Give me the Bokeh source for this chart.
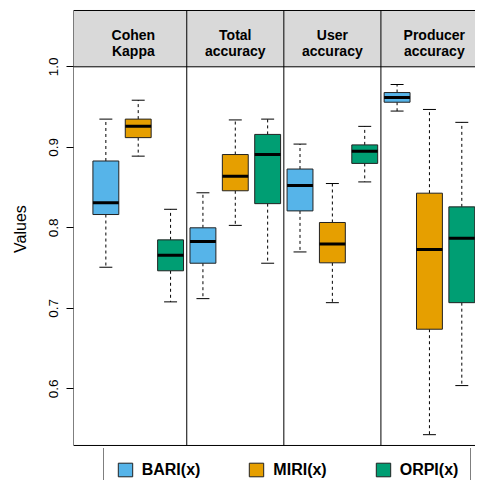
from bokeh.plotting import figure
from bokeh.layouts import column
from bokeh.models import (Range1d, FixedTicker, PrintfTickFormatter, Span, BoxAnnotation,
                          Legend, LegendItem, ColumnDataSource)
from bokeh.core.properties import value
from bokeh.embed import file_html
from bokeh.resources import INLINE

# ---------------- data ----------------
header_line1 = ["Cohen", "Total", "User", "Producer"]
header_line2 = ["Kappa", "accuracy", "accuracy", "accuracy"]
methods = ["BARI(x)", "MIRI(x)", "ORPI(x)"]
colors = ["#56B4E9", "#E69F00", "#009E73"]
y_ticks = [0.6, 0.7, 0.8, 0.9, 1.0]

# order: Cohen Kappa (BARI, MIRI, ORPI), Total accuracy (...), User accuracy (...), Producer accuracy (...)
whisker_low = [0.751, 0.889, 0.708, 0.712, 0.803, 0.756, 0.770, 0.707, 0.857, 0.945, 0.543, 0.604]
quart_1 = [0.8165, 0.912, 0.7466, 0.756, 0.846, 0.830, 0.821, 0.7565, 0.880, 0.956, 0.674, 0.707]
medians = [0.831, 0.926, 0.766, 0.783, 0.864, 0.891, 0.8525, 0.780, 0.895, 0.962, 0.773, 0.787]
quart_3 = [0.883, 0.935, 0.785, 0.800, 0.891, 0.916, 0.873, 0.8066, 0.903, 0.968, 0.843, 0.826]
whisker_high = [0.935, 0.9585, 0.823, 0.8435, 0.934, 0.935, 0.904, 0.855, 0.926, 0.978, 0.947, 0.931]

# ---------------- layout constants ----------------
N_GROUPS = len(header_line1)
N_METH = len(methods)
BOX_W = 0.8
CAP_HALF = 0.2
X_START, X_END = 0.0, 12.423
Y_END = 1.07118
Y_START = Y_END - 439 / 805
BOX_BOTTOM, BOX_TOP = 0.5296, 1.06994
HEADER_BOTTOM = 1.0
FONT = "Liberation Sans"
W = 475

p = figure(width=W, height=448,
           x_range=Range1d(X_START, X_END), y_range=Range1d(Y_START, Y_END),
           output_backend="svg", toolbar_location=None,
           min_border_left=73, min_border_right=0, min_border_top=9, min_border_bottom=0)
p.outline_line_color = None
p.grid.visible = False
p.xaxis.visible = False
p.background_fill_color = "white"
p.border_fill_color = "white"

# y axis
yax = p.yaxis[0]
yax.ticker = FixedTicker(ticks=y_ticks)
yax.formatter = PrintfTickFormatter(format="%.1f")
yax.axis_line_color = None
yax.major_tick_out = 7
yax.major_tick_in = 0
yax.minor_tick_line_color = None
yax.major_tick_line_color = "black"
yax.major_label_orientation = "vertical"
yax.major_label_standoff = 8
yax.major_label_text_font = FONT
yax.major_label_text_font_size = "13.5px"
yax.major_label_text_color = "black"
yax.axis_label = "Values"
yax.axis_label_text_font = FONT
yax.axis_label_text_font_size = "16px"
yax.axis_label_text_font_style = "normal"
yax.axis_label_text_color = "black"
yax.axis_label_standoff = 18

# header strip
p.add_layout(BoxAnnotation(bottom=HEADER_BOTTOM, top=BOX_TOP, left=X_START, fill_color="#D9D9D9",
                           fill_alpha=1.0, line_color=None, level="underlay"))

# frame lines
dividers = [g * N_METH + 0.5 for g in range(1, N_GROUPS)]
vlines = [X_START] + dividers
p.segment(x0=vlines, y0=[BOX_BOTTOM] * len(vlines), x1=vlines, y1=[BOX_TOP] * len(vlines),
          line_color="black", line_width=1)
hlines = [BOX_BOTTOM, HEADER_BOTTOM, BOX_TOP]
p.segment(x0=[X_START] * 3, y0=hlines, x1=[X_END] * 3, y1=hlines,
          line_color="black", line_width=1)

# boxes
positions = list(range(1, N_GROUPS * N_METH + 1))
sources = []
for m, col in enumerate(colors):
    idx = [g * N_METH + m for g in range(N_GROUPS)]
    xs = [positions[i] for i in idx]
    src = ColumnDataSource(dict(
        x=xs,
        xl=[x - CAP_HALF for x in xs], xr=[x + CAP_HALF for x in xs],
        bl=[x - BOX_W / 2 for x in xs], br=[x + BOX_W / 2 for x in xs],
        lo=[whisker_low[i] for i in idx], q1=[quart_1[i] for i in idx],
        med=[medians[i] for i in idx], q3=[quart_3[i] for i in idx],
        hi=[whisker_high[i] for i in idx]))
    sources.append(src)
    p.segment(x0="x", y0="q3", x1="x", y1="hi", source=src, line_color="black",
              line_width=1, line_dash="3 3")
    p.segment(x0="x", y0="q1", x1="x", y1="lo", source=src, line_color="black",
              line_width=1, line_dash="3 3")
    p.segment(x0="xl", y0="hi", x1="xr", y1="hi", source=src, line_color="black", line_width=1)
    p.segment(x0="xl", y0="lo", x1="xr", y1="lo", source=src, line_color="black", line_width=1)
    p.vbar(x="x", width=BOX_W, bottom="q1", top="q3", source=src,
           fill_color=col, line_color="#222222", line_width=1)
    p.segment(x0="bl", y0="med", x1="br", y1="med", source=src, line_color="black", line_width=3)

# header labels
edges = [0.2] + dividers + [12.8]
hx = [(edges[g] + edges[g + 1]) / 2 for g in range(N_GROUPS)]
hsrc = ColumnDataSource(dict(x=hx, y1=[1.0401] * N_GROUPS, y2=[1.0194] * N_GROUPS,
                             t1=header_line1, t2=header_line2))
for ycol, tcol in [("y1", "t1"), ("y2", "t2")]:
    p.text(x="x", y=ycol, text=tcol, source=hsrc, text_align="center",
           text_baseline="alphabetic", text_font=value(FONT), text_font_size="14px",
           text_font_style="bold", text_color="black")

# ---------------- legend strip ----------------
lg = figure(width=W, height=32, x_range=Range1d(X_START, X_END), y_range=Range1d(2, 3),
            output_backend="svg", toolbar_location=None,
            x_axis_location=None, y_axis_location=None,
            min_border_left=73, min_border_right=0, min_border_top=0, min_border_bottom=0)
lg.grid.visible = False
lg.outline_line_color = None
lg.background_fill_color = "white"
lg.border_fill_color = "white"
leg_renderers = [lg.vbar(x="x", width=BOX_W, bottom="q1", top="q3", source=s,
                         fill_color=c, line_color="#222222", line_width=1)
                 for s, c in zip(sources, colors)]
legend = Legend(items=[LegendItem(label=m, renderers=[r]) for m, r in zip(methods, leg_renderers)],
                orientation="horizontal", location=(29.7, -12), padding=12, spacing=47,
                margin=0, glyph_width=18, glyph_height=17, label_standoff=8, label_height=19,
                label_text_font=FONT, label_text_font_size="16px", label_text_font_style="bold",
                label_text_color="black", border_line_color="black", border_line_width=1,
                background_fill_color="white", background_fill_alpha=1.0)
lg.add_layout(legend)

layout = column(p, lg, spacing=0)
open("out.html", "w").write(file_html(layout, INLINE))
